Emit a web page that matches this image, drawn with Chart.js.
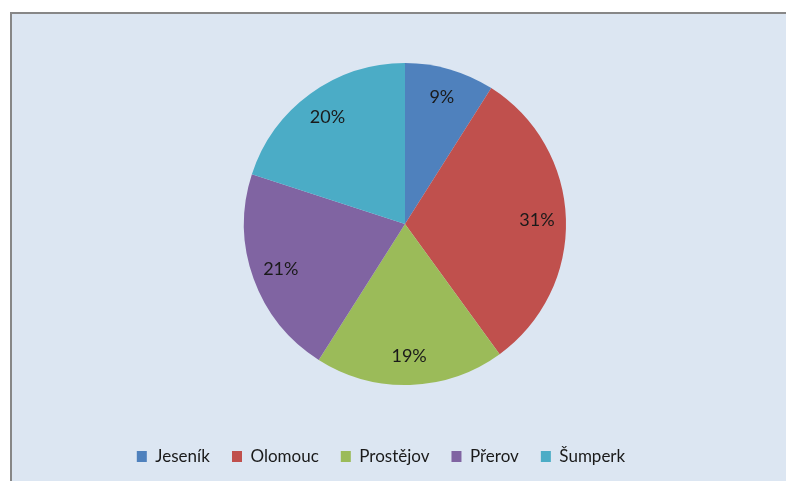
<!DOCTYPE html>
<html>
<head>
<meta charset="utf-8">
<script src="https://cdn.jsdelivr.net/npm/chart.js@4"></script>
<style>
  html, body { margin: 0; padding: 0; background: #ffffff; overflow: hidden; }
  #box {
    position: absolute; left: 10px; top: 12px;
    width: 774px; height: 500px;
    background: #dce6f2;
    border-top: 2px solid #878787;
    border-left: 2px solid #878787;
  }
</style>
</head>
<body>
<div id="box"><canvas id="myChart"></canvas></div>
<script>
const districts = ['Jeseník', 'Olomouc', 'Prostějov', 'Přerov', 'Šumperk'];
const shares = [9, 31, 19, 21, 20];
const sliceColors = ['#4f81bd', '#c0504d', '#9bbb59', '#8064a2', '#4bacc6'];

Chart.defaults.font.family = 'Lato';
Chart.defaults.font.size = 17;

// percent labels inside the slices
const sliceLabels = {
  id: 'sliceLabels',
  afterDatasetsDraw(chart) {
    const ctx = chart.ctx;
    const meta = chart.getDatasetMeta(0);
    ctx.save();
    ctx.font = '18px Lato';
    ctx.fillStyle = '#1a1a1a';
    ctx.textAlign = 'center';
    ctx.textBaseline = 'middle';
    meta.data.forEach((arc, i) => {
      const p = arc.getProps(['x', 'y', 'startAngle', 'endAngle', 'outerRadius'], true);
      const a = (p.startAngle + p.endAngle) / 2;
      const r = p.outerRadius * 0.82;
      ctx.fillText(shares[i] + '%', p.x + Math.cos(a) * r, p.y + Math.sin(a) * r);
    });
    ctx.restore();
  }
};

// legend sits a bit left of the pie centre in the original
const shiftLegend = {
  id: 'shiftLegend',
  afterLayout(chart) {
    chart.legend.left -= 24;
    chart.legend.right -= 24;
  }
};

const myChart = document.getElementById('myChart');

new Chart(myChart, {
  type: 'pie',
  data: {
    labels: districts,
    datasets: [{
      data: shares,
      backgroundColor: sliceColors,
      borderWidth: 0,
      radius: 161
    }]
  },
  options: {
    responsive: true,
    maintainAspectRatio: false,
    animation: false,
    layout: { padding: { top: 8, bottom: 39, left: 12, right: 0 } },
    plugins: {
      tooltip: { enabled: false },
      legend: {
        position: 'bottom',
        labels: {
          boxWidth: 10,
          boxHeight: 11,
          padding: 22,
          color: '#1a1a1a',
          font: { size: 17 }
        }
      }
    }
  },
  plugins: [sliceLabels, shiftLegend]
});
</script>
</body>
</html>
